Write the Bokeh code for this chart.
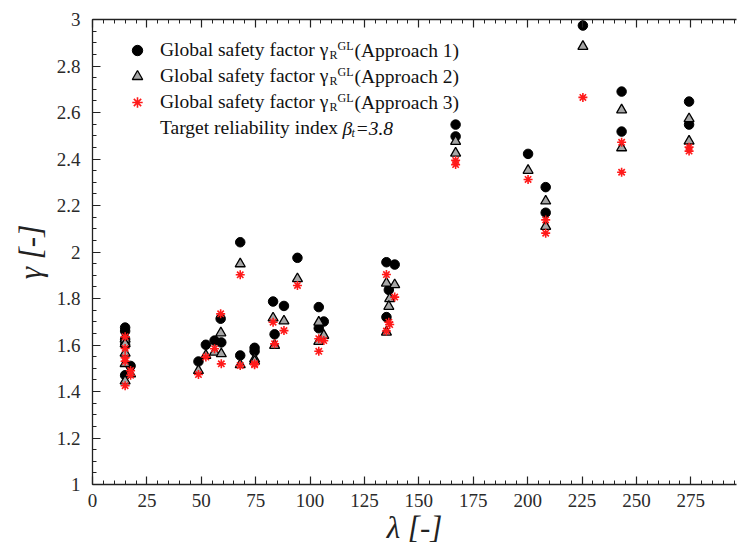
from bokeh.plotting import figure
from bokeh.models import (Range1d, LinearAxis, Label, Legend, LegendItem, FixedTicker)
from bokeh.embed import file_html
from bokeh.resources import INLINE

# ---------------- data ----------------
# Approach 1 (black circles)
lam1 = [15, 15, 15, 15, 15, 17.5, 48.7, 52.1, 56.1, 59.2, 58.9, 67.9, 67.9, 74.5, 74.5,
        83.0, 83.7, 88.0, 94.2, 104.0, 104.0, 106.3, 135.1, 135.1, 138.9, 136.2,
        166.9, 166.9, 200.2, 208.3, 208.3, 225.4, 243.2, 243.2, 274.2, 274.2]
gam1 = [1.675, 1.66, 1.625, 1.60, 1.47, 1.51, 1.529, 1.601, 1.619, 1.611, 1.713, 2.042, 1.555, 1.588, 1.573,
        1.787, 1.646, 1.768, 1.975, 1.763, 1.672, 1.701, 1.956, 1.72, 1.946, 1.837,
        2.548, 2.497, 2.422, 2.279, 2.169, 2.974, 2.69, 2.518, 2.647, 2.548]
# Approach 2 (grey triangles)
lam2 = [15, 15, 15, 15, 15, 17.5, 48.7, 52.1, 56.1, 59.2, 59.0, 67.9, 67.9, 74.5, 74.5,
        83.0, 83.7, 88.0, 94.2, 104.0, 104.0, 106.3, 135.1, 135.1, 138.9, 136.6, 136.2,
        166.9, 166.9, 200.2, 208.3, 208.3, 225.4, 243.2, 243.2, 274.2, 274.2]
gam2 = [1.625, 1.605, 1.565, 1.52, 1.445, 1.475, 1.49, 1.555, 1.569, 1.562, 1.652, 1.949, 1.515, 1.54, 1.53,
        1.716, 1.598, 1.703, 1.885, 1.698, 1.615, 1.641, 1.866, 1.655, 1.859, 1.799, 1.766,
        2.475, 2.425, 2.351, 2.219, 2.11, 2.884, 2.611, 2.448, 2.573, 2.477]
# Approach 3 (red asterisks)
lam3 = [15, 15, 15, 15, 15, 17.5, 17.5, 48.7, 52.1, 56.1, 59.2, 58.9, 67.9, 67.9, 74.5, 74.5,
        83.0, 83.7, 88.0, 94.2, 104.0, 104.0, 106.3, 135.1, 135.1, 138.9, 136.2, 136.6,
        166.9, 166.9, 200.2, 208.3, 208.3, 225.4, 243.2, 243.2, 274.2, 274.2]
gam3 = [1.635, 1.585, 1.545, 1.53, 1.425, 1.49, 1.47, 1.473, 1.548, 1.584, 1.519, 1.734, 1.902, 1.512, 1.519, 1.515,
        1.698, 1.605, 1.662, 1.856, 1.627, 1.573, 1.619, 1.903, 1.66, 1.806, 1.698, 1.688,
        2.394, 2.376, 2.312, 2.138, 2.081, 2.665, 2.472, 2.343, 2.451, 2.434]

x_ticks = [0, 25, 50, 75, 100, 125, 150, 175, 200, 225, 250, 275]
x_minor = [v for v in range(0, 300, 5)]
y_ticks = [1.0, 1.2, 1.4, 1.6, 1.8, 2.0, 2.2, 2.4, 2.6, 2.8, 3.0]
y_tick_labels = ["1", "1.2", "1.4", "1.6", "1.8", "2", "2.2", "2.4", "2.6", "2.8", "3"]
y_minor = [round(1 + 0.05 * i, 2) for i in range(41)]

series_labels = ["(Approach 1)", "(Approach 2)", "(Approach 3)"]

FONT = "Liberation Serif"

p = figure(width=737, height=552, output_backend="svg", toolbar_location=None,
           x_range=Range1d(0, 296), y_range=Range1d(1, 3),
           min_border_left=92, min_border_right=1, min_border_top=19, min_border_bottom=68)
p.xgrid.visible = False
p.ygrid.visible = False
p.outline_line_color = None
p.background_fill_color = "white"
p.border_fill_color = "white"

bottom_axis = p.below[0]
left_axis = p.left[0]
top_axis = LinearAxis(major_label_text_font_size="2px", major_label_text_color=None,
                      major_label_standoff=0)
p.add_layout(top_axis, "above")

xt = FixedTicker(ticks=x_ticks, minor_ticks=x_minor)
yt = FixedTicker(ticks=y_ticks, minor_ticks=y_minor)
bottom_axis.ticker = xt
top_axis.ticker = xt
left_axis.ticker = yt
left_axis.major_label_overrides = dict(zip(y_ticks, y_tick_labels))

for ax in [bottom_axis, left_axis, top_axis]:
    ax.axis_line_color = "#222222"
    ax.axis_line_width = 1.3
    ax.major_tick_line_color = "#222222"
    ax.minor_tick_line_color = "#222222"
    ax.major_tick_in = 8
    ax.major_tick_out = 0
    ax.minor_tick_in = 4
    ax.minor_tick_out = 0
    ax.major_tick_line_width = 1.2
    ax.minor_tick_line_width = 1
    ax.major_label_text_font = FONT
    ax.axis_label_text_font = FONT
    ax.axis_label_text_font_style = "italic"
    ax.axis_label_text_color = "#222222"

for ax in [bottom_axis, left_axis]:
    ax.major_label_text_color = "#2a2a2a"
    ax.major_label_text_font_size = "19px"

bottom_axis.major_label_standoff = 9
left_axis.major_label_standoff = 12
bottom_axis.axis_label = "λ [-]"
left_axis.axis_label = "γ [-]"
bottom_axis.axis_label_text_font_size = "31px"
left_axis.axis_label_text_font_size = "31px"
bottom_axis.axis_label_standoff = 0
left_axis.axis_label_standoff = 6

r1 = p.scatter(lam1, gam1, marker="circle", size=9.5, fill_color="black", line_color="black")
r2 = p.scatter(lam2, gam2, marker="triangle", size=10, fill_color="#a6a6a6",
               line_color="black", line_width=1.3)
r3 = p.scatter(lam3, gam3, marker="asterisk", size=9, line_color="#ff1a1a", line_width=1.6)
r_blank = p.scatter([], [], marker="circle", size=1, fill_alpha=0, line_alpha=0)

FX, FY = 92, 484  # frame left / bottom in canvas pixels
ROW0, PITCH = 50, 26

legend = Legend(items=[LegendItem(label="Global safety factor γ", renderers=[r]) for r in (r1, r2, r3)]
                + [LegendItem(label="Target reliability index", renderers=[r_blank])],
                location=(137 - 14 - FX, FY - (ROW0 - PITCH / 2 + 4 * PITCH)),
                glyph_width=28, glyph_height=PITCH, spacing=0,
                padding=0, margin=0, border_line_color=None, background_fill_alpha=0,
                label_standoff=9, label_height=PITCH,
                label_text_font=FONT, label_text_font_size="19.5px", label_text_color="#111111")
p.add_layout(legend)


def put(text, cx, cy, size, style="normal"):
    p.add_layout(Label(x=cx - FX, y=FY - cy, x_units="screen", y_units="screen", text=text,
                       text_font=FONT, text_font_size=size, text_font_style=style,
                       text_color="#111111", text_baseline="middle", text_align="left"))


for i, lab in enumerate(series_labels):
    c = ROW0 + PITCH * i
    put("R", 329, c + 4, "12px")
    put("GL", 337, c - 5, "12px")
    put(lab, 354, c, "19.5px")

c4 = ROW0 + PITCH * 3
put("β", 342, c4, "19.5px", "italic")
put("t", 351, c4 + 4, "12px", "italic")
put("=3.8", 355, c4, "19.5px", "italic")

open("out.html", "w").write(file_html(p, INLINE))
